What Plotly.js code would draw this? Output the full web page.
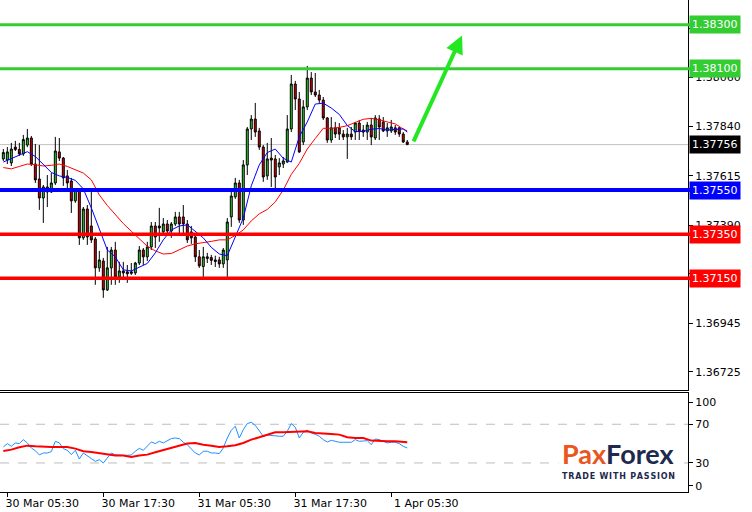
<!DOCTYPE html>
<html><head><meta charset="utf-8">
<script src="https://cdn.plot.ly/plotly-3.0.1.min.js"></script>
<style>html,body{margin:0;padding:0;background:#fff}#chart{width:752px;height:512px}</style>
</head><body><div id="chart"></div>
<script>
const times = [
'2021-03-30 05:00','2021-03-30 05:30','2021-03-30 06:00','2021-03-30 06:30','2021-03-30 07:00','2021-03-30 07:30','2021-03-30 08:00','2021-03-30 08:30','2021-03-30 09:00','2021-03-30 09:30',
'2021-03-30 10:00','2021-03-30 10:30','2021-03-30 11:00','2021-03-30 11:30','2021-03-30 12:00','2021-03-30 12:30','2021-03-30 13:00','2021-03-30 13:30','2021-03-30 14:00','2021-03-30 14:30',
'2021-03-30 15:00','2021-03-30 15:30','2021-03-30 16:00','2021-03-30 16:30','2021-03-30 17:00','2021-03-30 17:30','2021-03-30 18:00','2021-03-30 18:30','2021-03-30 19:00','2021-03-30 19:30',
'2021-03-30 20:00','2021-03-30 20:30','2021-03-30 21:00','2021-03-30 21:30','2021-03-30 22:00','2021-03-30 22:30','2021-03-30 23:00','2021-03-30 23:30',
'2021-03-31 00:00','2021-03-31 00:30','2021-03-31 01:00','2021-03-31 01:30','2021-03-31 02:00','2021-03-31 02:30','2021-03-31 03:00','2021-03-31 03:30','2021-03-31 04:00','2021-03-31 04:30',
'2021-03-31 05:00','2021-03-31 05:30','2021-03-31 06:00','2021-03-31 06:30','2021-03-31 07:00','2021-03-31 07:30','2021-03-31 08:00','2021-03-31 08:30','2021-03-31 09:00','2021-03-31 09:30',
'2021-03-31 10:00','2021-03-31 10:30','2021-03-31 11:00','2021-03-31 11:30','2021-03-31 12:00','2021-03-31 12:30','2021-03-31 13:00','2021-03-31 13:30','2021-03-31 14:00','2021-03-31 14:30',
'2021-03-31 15:00','2021-03-31 15:30','2021-03-31 16:00','2021-03-31 16:30','2021-03-31 17:00','2021-03-31 17:30','2021-03-31 18:00','2021-03-31 18:30','2021-03-31 19:00','2021-03-31 19:30',
'2021-03-31 20:00','2021-03-31 20:30','2021-03-31 21:00','2021-03-31 21:30','2021-03-31 22:00','2021-03-31 22:30','2021-03-31 23:00','2021-03-31 23:30',
'2021-04-01 00:00','2021-04-01 00:30','2021-04-01 01:00','2021-04-01 01:30','2021-04-01 02:00','2021-04-01 02:30','2021-04-01 03:00','2021-04-01 03:30','2021-04-01 04:00','2021-04-01 04:30',
'2021-04-01 05:00','2021-04-01 05:30','2021-04-01 06:00','2021-04-01 06:30','2021-04-01 07:00','2021-04-01 07:30'];

const open = [1.37691,1.37686,1.37673,1.37745,1.37734,1.37714,1.37754,1.37786,1.37668,1.37600,
1.37514,1.37541,1.37541,1.37582,1.37723,1.37695,1.37614,1.37591,1.37501,1.37550,
1.37333,1.37464,1.37387,1.37328,1.37197,1.37228,1.37097,1.37197,1.37278,1.37156,
1.37183,1.37179,1.37172,1.37174,1.37219,1.37278,1.37247,1.37292,1.37387,1.37387,
1.37360,1.37396,1.37364,1.37396,1.37428,1.37428,1.37396,1.37360,1.37337,1.37247,
1.37203,1.37247,1.37244,1.37233,1.37233,1.37215,1.37233,1.37428,1.37519,1.37582,
1.37414,1.37664,1.37827,1.37872,1.37818,1.37745,1.37614,1.37695,1.37691,1.37655,
1.37668,1.37677,1.37827,1.38031,1.37963,1.37768,1.37927,1.38058,1.37995,1.37981,
1.37958,1.37877,1.37777,1.37832,1.37832,1.37804,1.37791,1.37804,1.37813,1.37854,
1.37822,1.37813,1.37845,1.37786,1.37872,1.37859,1.37818,1.37818,1.37832,1.37832,
1.37804,1.37768];
const high = [1.37736,1.37745,1.37764,1.37773,1.37764,1.37800,1.37827,1.37795,1.37759,1.37754,
1.37573,1.37618,1.37627,1.37791,1.37786,1.37700,1.37641,1.37605,1.37559,1.37559,
1.37473,1.37482,1.37541,1.37337,1.37274,1.37242,1.37292,1.37292,1.37315,1.37224,
1.37224,1.37210,1.37219,1.37224,1.37296,1.37287,1.37315,1.37405,1.37405,1.37469,
1.37423,1.37414,1.37405,1.37451,1.37451,1.37482,1.37414,1.37387,1.37351,1.37278,
1.37292,1.37265,1.37256,1.37252,1.37247,1.37287,1.37423,1.37541,1.37605,1.37596,
1.37686,1.37836,1.37890,1.37945,1.37832,1.37754,1.37764,1.37786,1.37709,1.37695,
1.37700,1.37890,1.38072,1.38045,1.37995,1.37958,1.38113,1.38085,1.38081,1.38004,
1.37972,1.37881,1.37881,1.37859,1.37854,1.37822,1.37832,1.37836,1.37859,1.37868,
1.37845,1.37859,1.37877,1.37890,1.37890,1.37881,1.37854,1.37868,1.37845,1.37836,
1.37813,1.37777];
const low = [1.37682,1.37668,1.37659,1.37727,1.37705,1.37705,1.37745,1.37659,1.37582,1.37460,
1.37401,1.37473,1.37537,1.37573,1.37682,1.37569,1.37559,1.37446,1.37492,1.37301,
1.37324,1.37301,1.37310,1.37120,1.37179,1.37061,1.37092,1.37120,1.37120,1.37129,
1.37151,1.37129,1.37165,1.37165,1.37210,1.37210,1.37228,1.37278,1.37287,1.37315,
1.37346,1.37342,1.37333,1.37387,1.37355,1.37355,1.37310,1.37306,1.37224,1.37197,
1.37156,1.37219,1.37210,1.37201,1.37197,1.37197,1.37156,1.37383,1.37510,1.37401,
1.37392,1.37618,1.37777,1.37791,1.37732,1.37587,1.37596,1.37564,1.37559,1.37618,
1.37650,1.37673,1.37813,1.37913,1.37718,1.37754,1.37913,1.37981,1.37972,1.37945,
1.37868,1.37764,1.37764,1.37786,1.37777,1.37777,1.37691,1.37777,1.37777,1.37777,
1.37791,1.37777,1.37754,1.37777,1.37777,1.37813,1.37791,1.37809,1.37800,1.37791,
1.37764,1.37754];
const close = [1.37720,1.37723,1.37736,1.37734,1.37714,1.37779,1.37786,1.37668,1.37596,1.37514,
1.37564,1.37564,1.37582,1.37727,1.37695,1.37605,1.37582,1.37501,1.37550,1.37333,
1.37464,1.37337,1.37324,1.37197,1.37233,1.37097,1.37197,1.37278,1.37156,1.37183,
1.37174,1.37170,1.37179,1.37219,1.37278,1.37247,1.37292,1.37387,1.37337,1.37378,
1.37396,1.37364,1.37396,1.37428,1.37396,1.37396,1.37324,1.37333,1.37247,1.37206,
1.37247,1.37240,1.37231,1.37226,1.37215,1.37278,1.37405,1.37523,1.37582,1.37414,
1.37664,1.37827,1.37872,1.37813,1.37745,1.37609,1.37691,1.37686,1.37609,1.37673,
1.37682,1.37827,1.38031,1.37963,1.37723,1.37927,1.38058,1.37995,1.37981,1.37958,
1.37877,1.37777,1.37832,1.37804,1.37804,1.37791,1.37804,1.37791,1.37854,1.37818,
1.37813,1.37845,1.37791,1.37877,1.37836,1.37818,1.37832,1.37836,1.37813,1.37804,
1.37768,1.37756];

// moving averages, read every second bar
const maIdx = [0,2,4,6,8,10,12,14,16,18,20,22,24,26,28,30,32,34,36,38,40,42,44,46,48,50,
52,54,56,58,60,62,64,66,68,70,72,74,76,78,80,82,84,86,88,90,92,94,96,98,100,101];
const maFast = [1.37677,1.37693,1.37709,1.37724,1.37702,1.37664,1.37630,1.37614,1.37607,1.37594,
1.37555,1.37469,1.37373,1.37278,1.37247,1.37188,1.37183,1.37201,1.37217,1.37265,
1.37324,1.37369,1.37387,1.37392,1.37364,1.37333,1.37290,1.37260,1.37252,1.37339,
1.37423,1.37569,1.37664,1.37720,1.37736,1.37694,1.37677,1.37791,1.37859,1.37940,
1.37944,1.37922,1.37893,1.37843,1.37815,1.37816,1.37826,1.37829,1.37822,1.37825,
1.37827,1.37813];
const maSlow = [1.37652,1.37646,1.37657,1.37668,1.37665,1.37659,1.37662,1.37668,1.37657,1.37643,
1.37627,1.37596,1.37528,1.37480,1.37437,1.37398,1.37363,1.37328,1.37295,1.37274,
1.37260,1.37262,1.37280,1.37296,1.37306,1.37310,1.37317,1.37324,1.37324,1.37344,
1.37369,1.37410,1.37442,1.37462,1.37496,1.37550,1.37621,1.37671,1.37736,1.37784,
1.37830,1.37830,1.37834,1.37842,1.37857,1.37871,1.37875,1.37869,1.37859,1.37850,
1.37827,1.37818];

// oscillator panel
const rsi = [46.5,50.0,47.2,50.7,50.0,54.1,50.7,45.5,42.7,38.3,
40.3,40.3,41.7,52.4,50.7,44.8,43.1,38.6,43.1,34.1,
40.3,36.9,34.5,31.7,33.4,30.0,35.2,40.3,38.3,37.9,
37.9,37.9,38.3,42.1,45.1,43.1,47.2,51.7,50.0,52.4,
50.7,53.1,55.2,55.8,55.2,51.4,48.9,44.5,40.3,38.3,
42.1,42.1,40.3,40.3,39.6,45.5,55.8,63.8,67.9,55.8,
64.4,70.7,72.0,68.9,62.7,57.6,58.9,58.3,57.6,57.6,
57.6,62.7,70.7,66.9,55.8,61.7,63.8,61.0,59.6,57.6,
54.1,51.7,53.4,52.0,51.4,51.4,51.4,51.4,54.1,52.4,
52.7,53.1,48.9,54.8,54.1,52.7,50.7,51.4,51.4,50.0,
47.2,45.5];
const rsiSignal = [42.4,43.8,46.2,47.9,47.2,46.5,46.5,46.5,46.5,44.8,
42.1,41.4,40.3,39.3,37.6,37.6,36.2,37.6,38.6,41.0,
43.1,45.2,47.2,50.0,50.7,48.9,47.9,46.5,47.2,48.3,
50.7,54.1,56.5,59.3,61.7,61.7,62.0,62.7,62.7,61.0,
60.7,60.0,59.3,56.5,55.8,55.8,53.1,52.4,52.4,52.4,
52.0,51.4];
const rsiLevels = [70, 30];

// horizontal levels
const levels = [1.38300, 1.38100, 1.37550, 1.37350, 1.37150];
const levelLabels = ['1.38300','1.38100','1.37550','1.37350','1.37150'];
const lastPrice = 1.37756;
const lastPriceLabel = '1.37756';

// ticks
const priceTicks = [1.36725,1.36945,1.37170,1.37390,1.37615,1.37840,1.38060,1.38285];
const priceTickText = ['1.36725','1.36945','1.37170','1.37390','1.37615','1.37840','1.38060','1.38285'];
const oscTicks = [92.5,70,30,6.5];
const oscTickText = ['100','70','30','0'];
const timeTicks = ['2021-03-30 05:30','2021-03-30 17:30','2021-03-31 05:30','2021-03-31 17:30','2021-04-01 05:30'];
const timeTickText = ['30 Mar 05:30','30 Mar 17:30','31 Mar 05:30','31 Mar 17:30','1 Apr 05:30'];

// forecast arrow (tail, head)
const arrowTail = ['2021-04-01 08:12', 1.37764];
const arrowHead = ['2021-04-01 14:21', 1.38251];

// logo texts
const logoLeft = 'Pax', logoRight = 'Forex', slogan = 'TRADE WITH PASSION';

// styles
const levelColors = ['#33CC33','#33CC33','#0000FF','#FF0000','#FF0000'];
const levelWidths = [3, 3, 4, 3.5, 3.5];
const xRange = ['2021-03-30 04:35','2021-04-02 18:36'];
const yRange = [1.36643, 1.38412];

const maX = maIdx.map(i => times[i]);

const traces = [
  {type:'candlestick', x:times, open:open, high:high, low:low, close:close, xaxis:'x', yaxis:'y',
   increasing:{line:{color:'#000000', width:1}, fillcolor:'#2ED12E'},
   decreasing:{line:{color:'#000000', width:1}, fillcolor:'#E00000'},
   whiskerwidth:0, hoverinfo:'skip'},
  {type:'scatter', mode:'lines', x:maX, y:maSlow, xaxis:'x', yaxis:'y', line:{color:'#FF0000', width:1}},
  {type:'scatter', mode:'lines', x:maX, y:maFast, xaxis:'x', yaxis:'y', line:{color:'#0000FF', width:1}},
  {type:'scatter', mode:'lines', x:times, y:rsi, xaxis:'x2', yaxis:'y2', line:{color:'#1E90FF', width:1}},
  {type:'scatter', mode:'lines', x:maX, y:rsiSignal, xaxis:'x2', yaxis:'y2', line:{color:'#FF0000', width:2}}
];

const shapes = [];
shapes.push({type:'line', xref:'paper', x0:0, x1:1, yref:'y', y0:lastPrice, y1:lastPrice, line:{color:'#C0C0C0', width:1}, layer:'below'});
levels.forEach((v,k) => shapes.push({type:'line', xref:'paper', x0:0, x1:1.006, yref:'y', y0:v, y1:v, line:{color:levelColors[k], width:levelWidths[k]}}));
rsiLevels.forEach(v => shapes.push({type:'line', xref:'paper', x0:0, x1:1, yref:'y2', y0:v, y1:v, line:{color:'#BDBDBD', width:1, dash:'dash'}, layer:'below'}));

const annotations = [];
levels.forEach((v,k) => annotations.push({xref:'paper', x:1, xanchor:'left', xshift:1, yref:'y', y:v, yanchor:'middle',
  text:levelLabels[k], showarrow:false, bgcolor:levelColors[k], borderpad:2,
  font:{family:'DejaVu Sans', size:11, color:'#FFFFFF'}}));
annotations.push({xref:'paper', x:1, xanchor:'left', xshift:1, yref:'y', y:lastPrice, yanchor:'middle',
  text:lastPriceLabel, showarrow:false, bgcolor:'#000000', borderpad:2,
  font:{family:'DejaVu Sans', size:11, color:'#FFFFFF'}});
annotations.push({xref:'x', yref:'y', x:arrowHead[0], y:arrowHead[1], axref:'x', ayref:'y', ax:arrowTail[0], ay:arrowTail[1],
  showarrow:true, arrowhead:2, arrowsize:0.9, arrowwidth:4, arrowcolor:'#22E822', text:''});
annotations.push({xref:'paper', yref:'paper', x:0.8997, y:0.1152, xanchor:'center', yanchor:'middle', showarrow:false,
  text:'<b><span style="color:#EA5520">' + logoLeft + '</span><span style="color:#1D2A4D">' + logoRight + '</span></b>',
  font:{family:'Lato', size:27}, bgcolor:'#FFFFFF', borderpad:3});
annotations.push({xref:'paper', yref:'paper', x:0.8997, y:0.0684, xanchor:'center', yanchor:'middle', showarrow:false,
  text:'<b>' + slogan.split('').join('\u200A') + '</b>', font:{family:'DejaVu Sans', size:8, color:'#1D2A4D'}});

const layout = {
  width:752, height:512, margin:{l:0, r:64, t:0, b:0},
  paper_bgcolor:'#FFFFFF', plot_bgcolor:'#FFFFFF', showlegend:false,
  font:{family:'DejaVu Sans', size:11, color:'#000000'},
  xaxis:{type:'date', range:xRange, domain:[0,1], anchor:'y', showticklabels:false, ticks:'',
         showgrid:false, zeroline:false, showline:true, linecolor:'#000000', linewidth:1, mirror:true,
         rangeslider:{visible:false}},
  yaxis:{domain:[0.2383,1], range:yRange, side:'right', anchor:'x', tickvals:priceTicks, ticktext:priceTickText,
         ticks:'outside', ticklen:4, tickcolor:'#000000', showgrid:false, zeroline:false,
         showline:true, linecolor:'#000000', linewidth:1, mirror:true},
  xaxis2:{type:'date', range:xRange, domain:[0,1], anchor:'y2', matches:'x', tickvals:timeTicks, ticktext:timeTickText,
          ticks:'outside', ticklen:4, tickcolor:'#000000', ticklabelshift:35, ticklabelstandoff:-3,
          showgrid:false, zeroline:false,
          showline:true, linecolor:'#000000', linewidth:1, mirror:true, rangeslider:{visible:false}},
  yaxis2:{domain:[0.0391,0.2324], range:[0,102.3], side:'right', anchor:'x2', tickvals:oscTicks, ticktext:oscTickText,
          ticks:'outside', ticklen:4, tickcolor:'#000000', showgrid:false, zeroline:false,
          showline:true, linecolor:'#000000', linewidth:1, mirror:true},
  shapes:shapes, annotations:annotations
};

Plotly.newPlot('chart', traces, layout, {staticPlot:true, displayModeBar:false});
</script>
</body></html>
